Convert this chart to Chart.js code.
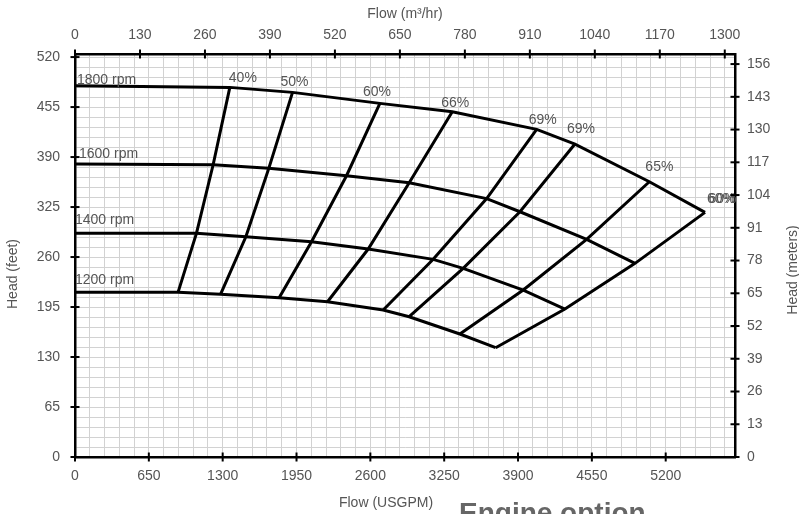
<!DOCTYPE html>
<html>
<head>
<meta charset="utf-8">
<script src="https://cdn.jsdelivr.net/npm/chart.js@4.4.1/dist/chart.umd.min.js"></script>
<style>
  html, body { margin: 0; padding: 0; background: #fff; overflow: hidden; }
  #wrap { position: relative; width: 799px; height: 514px; }
</style>
</head>
<body>
<div id="wrap"><canvas id="c"></canvas></div>
<script>
// ---- data ----
const speedLabels = ['1800 rpm', '1600 rpm', '1400 rpm', '1200 rpm'];
const effLabels = ['40%', '50%', '60%', '66%', '69%', '69%', '65%', '60%'];
const shutoffHead = [482.7, 380.9, 290.8, 214.1];          // head (ft) at zero flow
const flow1800 = [1363, 1915, 2684, 3321, 4064, 4401, 5056, 5546];
const head1800 = [480.6, 474.1, 459.8, 448.9, 426.0, 406.9, 357.9, 318.1];
const flow1600 = [1216, 1706, 2390, 2942, 3624, 3917, 4504, 4930];
const head1600 = [380.0, 375.3, 365.7, 356.6, 336.0, 318.9, 283.0, 251.8];
const flow1400 = [1069, 1504, 2082, 2581, 3153, 3417, 3946, 4313];
const head1400 = [290.8, 286.4, 279.9, 270.4, 257.0, 245.3, 217.1, 192.4];
const flow1200 = [907, 1281, 1797, 2223, 2713, 2942, 3388, 3703];
const head1200 = [214.1, 211.5, 207.1, 201.9, 191.1, 182.4, 159.9, 142.1];

// axis ranges / tick labels
const flowMax = 5810;            // USGPM
const m3hPerUsgpm = 1 / 4.4;     // top axis conversion
const headMax = 524;             // ft
const metersMax = 160;           // m
const flowLabelStep = 650, flowGridStep = 130;
const m3hLabelStep = 130;
const headLabelStep = 65, headGridStep = 13;
const metersLabelStep = 13;
const bottomTitle = 'Flow (USGPM)';
const topTitle = 'Flow (m³/hr)';
const leftTitle = 'Head (feet)';
const rightTitle = 'Head (meters)';
const footerText = 'Engine option';

// ---- build datasets ----
const flows = [flow1800, flow1600, flow1400, flow1200];
const heads = [head1800, head1600, head1400, head1200];
const FONT = '"Liberation Sans", Arial, sans-serif';
const TEXT = '#555';

const datasets = [];
flows.forEach((fl, s) => {
  const pts = [{x: 0, y: shutoffHead[s]}];
  fl.forEach((q, i) => pts.push({x: q, y: heads[s][i]}));
  datasets.push({label: speedLabels[s], data: pts});
});
effLabels.forEach((lab, i) => {
  const pts = flows.map((fl, s) => ({x: fl[i], y: heads[s][i]}));
  datasets.push({label: 'eff ' + lab + ' #' + i, data: pts});
});
datasets.forEach(d => Object.assign(d, {
  showLine: true, borderColor: '#000', backgroundColor: '#000',
  borderWidth: 3, pointRadius: 0, tension: 0, fill: false
}));

// ---- plugins ----
const tickMarks = {
  id: 'tickMarks',
  afterDraw(chart) {
    const {ctx, scales} = chart;
    ctx.save();
    ctx.strokeStyle = '#000';
    ctx.lineWidth = 2;
    const half = 4.5;
    const drawX = (sc, step, y) => {
      for (let v = 0; v <= sc.max + 1e-6; v += step) {
        const x = sc.getPixelForValue(v);
        ctx.beginPath(); ctx.moveTo(x, y - half); ctx.lineTo(x, y + half); ctx.stroke();
      }
    };
    const drawY = (sc, step, x) => {
      for (let v = 0; v <= sc.max + 1e-6; v += step) {
        const y = sc.getPixelForValue(v);
        ctx.beginPath(); ctx.moveTo(x - half, y); ctx.lineTo(x + half, y); ctx.stroke();
      }
    };
    const a = chart.chartArea;
    drawX(scales.x, flowLabelStep, a.bottom);
    drawX(scales.x2, m3hLabelStep, a.top);
    drawY(scales.y, headLabelStep, a.left);
    drawY(scales.y2, metersLabelStep, a.right);
    ctx.restore();
  }
};

const effOffsets = [[-1, -5], [-12, -6], [-17, -7], [-11, -5], [-8, -5], [-8, -11], [-4, -11], [2, -9]];
const speedOffsets = [[2, -2], [4, -6], [0, -9], [0, -8]];
const textLabels = {
  id: 'textLabels',
  afterDatasetsDraw(chart) {
    const {ctx, scales} = chart;
    const xs = scales.x, ys = scales.y;
    ctx.save();
    ctx.font = '14px ' + FONT;
    ctx.fillStyle = TEXT;
    ctx.textAlign = 'left';
    ctx.textBaseline = 'alphabetic';
    effLabels.forEach((lab, i) => {
      const px = xs.getPixelForValue(flow1800[i]);
      const py = ys.getPixelForValue(head1800[i]);
      const [dx, dy] = effOffsets[i];
      ctx.fillText(lab, px + dx, py + dy);
      if (i === effLabels.length - 1) ctx.fillText(lab, px + dx + 1.5, py + dy);
    });
    speedLabels.forEach((lab, s) => {
      const px = xs.getPixelForValue(0);
      const py = ys.getPixelForValue(shutoffHead[s]);
      const [dx, dy] = speedOffsets[s];
      ctx.fillText(lab, px + dx, py + dy);
    });
    ctx.restore();
  },
  afterDraw(chart) {
    const {ctx} = chart;
    const a = chart.chartArea;
    ctx.save();
    ctx.font = '14px ' + FONT;
    ctx.fillStyle = TEXT;
    ctx.textAlign = 'center';
    ctx.textBaseline = 'middle';
    ctx.fillText(topTitle, (a.left + a.right) / 2, 14);
    ctx.fillText(bottomTitle, 386, 503);
    ctx.save(); ctx.translate(13, 274); ctx.rotate(-Math.PI / 2); ctx.fillText(leftTitle, 0, 0); ctx.restore();
    ctx.save(); ctx.translate(793, 270); ctx.rotate(-Math.PI / 2); ctx.fillText(rightTitle, 0, 0); ctx.restore();
    ctx.font = 'bold 28px ' + FONT;
    ctx.fillStyle = '#666';
    ctx.textAlign = 'left';
    ctx.textBaseline = 'alphabetic';
    ctx.fillText(footerText, 459, 522);
    ctx.restore();
  }
};

const border = {display: true, color: '#000', width: 2.5};
const tickFont = {family: FONT, size: 14};

new Chart(document.getElementById('c'), {
  type: 'scatter',
  data: {datasets},
  options: {
    responsive: true,
    maintainAspectRatio: false,
    animation: false,
    layout: {padding: 0},
    plugins: {legend: {display: false}, tooltip: {enabled: false}, title: {display: false}},
    scales: {
      x: {
        type: 'linear', position: 'bottom', min: 0, max: flowMax,
        border, grid: {color: '#d2d2d2', lineWidth: 1, drawTicks: false},
        ticks: {stepSize: flowGridStep, includeBounds: false, autoSkip: false, maxTicksLimit: 1000, maxRotation: 0,
          padding: 11, color: TEXT, font: tickFont,
          callback: v => (Math.round(v) % flowLabelStep === 0 ? String(Math.round(v)) : '')},
        afterFit: s => { s.height = 57; }
      },
      x2: {
        type: 'linear', position: 'top', min: 0, max: flowMax * m3hPerUsgpm,
        border, grid: {drawOnChartArea: false, drawTicks: false},
        ticks: {stepSize: m3hLabelStep, includeBounds: false, autoSkip: false, maxTicksLimit: 1000, maxRotation: 0,
          padding: 10, color: TEXT, font: tickFont, callback: v => String(Math.round(v))},
        afterFit: s => { s.height = 54; }
      },
      y: {
        type: 'linear', position: 'left', min: 0, max: headMax,
        border, grid: {color: '#d2d2d2', lineWidth: 1, drawTicks: false},
        ticks: {stepSize: headGridStep, includeBounds: false, autoSkip: false, maxTicksLimit: 1000,
          padding: 15, color: TEXT, font: tickFont,
          callback: v => (Math.round(v) % headLabelStep === 0 ? String(Math.round(v)) : '')},
        afterFit: s => { s.width = 75; }
      },
      y2: {
        type: 'linear', position: 'right', min: 0, max: metersMax,
        border, grid: {drawOnChartArea: false, drawTicks: false},
        ticks: {stepSize: metersLabelStep, includeBounds: false, autoSkip: false, maxTicksLimit: 1000,
          padding: 12, color: TEXT, font: tickFont, callback: v => String(Math.round(v))},
        afterFit: s => { s.width = 64; }
      }
    }
  },
  plugins: [tickMarks, textLabels]
});
</script>
</body>
</html>
